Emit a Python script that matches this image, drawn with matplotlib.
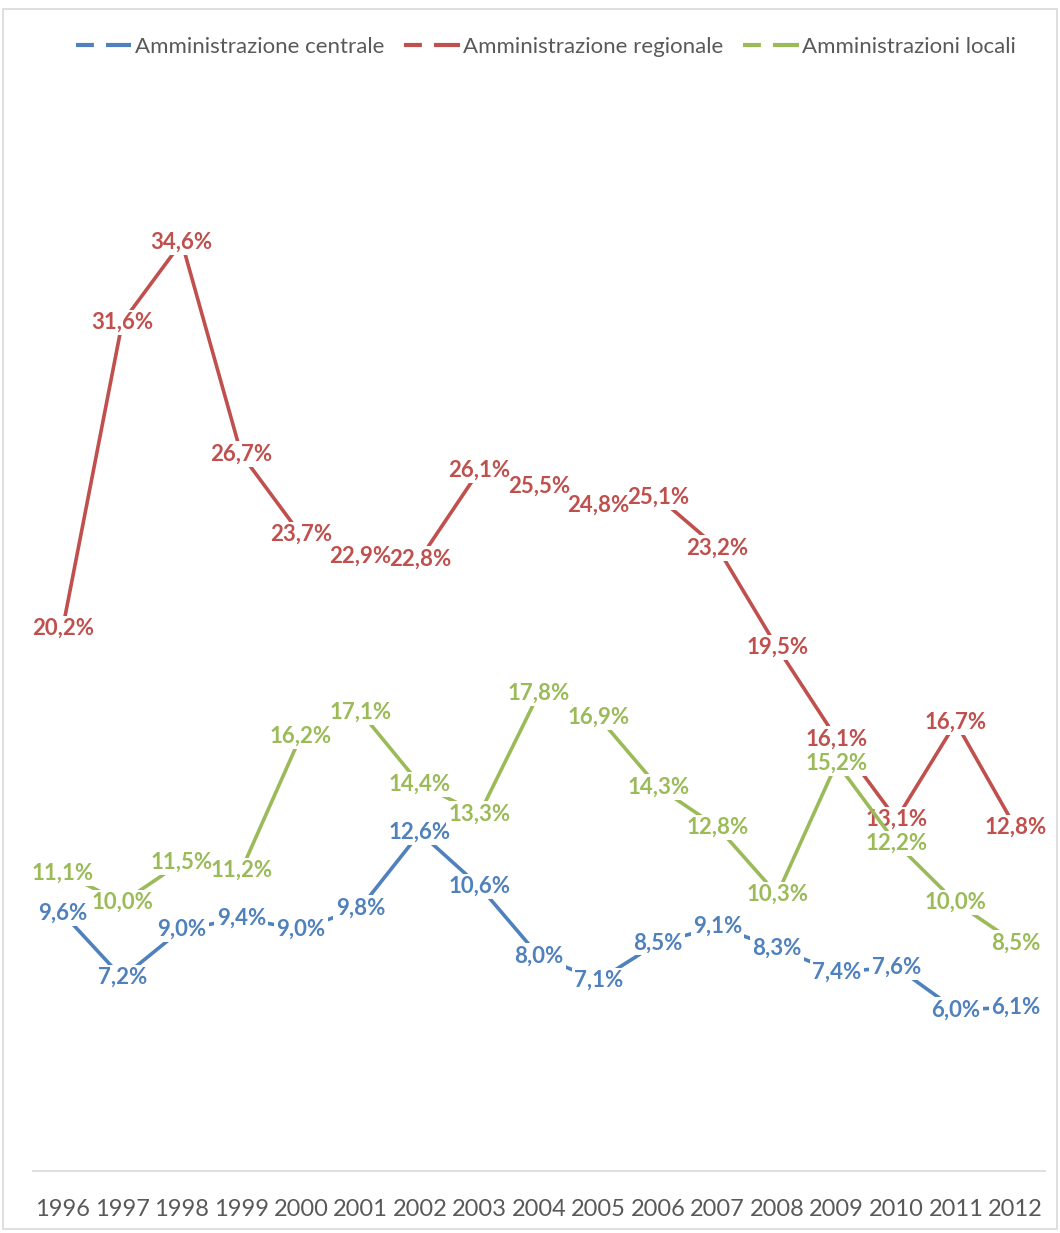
import matplotlib.pyplot as plt
from matplotlib.lines import Line2D
from matplotlib.patches import Rectangle

# ---- DATA ----
years = ["1996", "1997", "1998", "1999", "2000", "2001", "2002", "2003", "2004",
         "2005", "2006", "2007", "2008", "2009", "2010", "2011", "2012"]
centrale = [9.6, 7.2, 9.0, 9.4, 9.0, 9.8, 12.6, 10.6, 8.0, 7.1, 8.5, 9.1, 8.3, 7.4, 7.6, 6.0, 6.1]
regionale = [20.2, 31.6, 34.6, 26.7, 23.7, 22.9, 22.8, 26.1, 25.5, 24.8, 25.1, 23.2, 19.5, 16.1, 13.1, 16.7, 12.8]
locali = [11.1, 10.0, 11.5, 11.2, 16.2, 17.1, 14.4, 13.3, 17.8, 16.9, 14.3, 12.8, 10.3, 15.2, 12.2, 10.0, 8.5]
series_names = ["Amministrazione centrale", "Amministrazione regionale", "Amministrazioni locali"]
colors = ["#4F81BD", "#C0504D", "#9BBB59"]

plt.rcParams["font.family"] = ["Lato", "DejaVu Sans"]

fig = plt.figure(figsize=(10.6, 12.33), dpi=100)
fig.patches.append(Rectangle((0.003, 0.003), 0.994, 0.99, transform=fig.transFigure,
                             fill=False, edgecolor="#D9D9D9", linewidth=1.2))
ax = fig.add_axes([0.031, 0.0503, 0.955, 0.871])

x = list(range(len(years)))
for i, (vals, c) in enumerate(zip([centrale, regionale, locali], colors)):
    ax.plot(x, vals, color=c, linewidth=2.6, zorder=2 + 3 * i, solid_capstyle="butt")
    for xi, v in zip(x, vals):
        lbl = f"{v:.1f}%".replace(".", ",")
        # white box behind the label cuts the line, text itself drawn just above
        ax.text(xi, v, lbl, ha="center", va="center", color=c, alpha=0,
                fontsize=16, fontweight="bold", zorder=3 + 3 * i,
                bbox=dict(boxstyle="square,pad=0.1", facecolor="white", edgecolor="none"))
        ax.text(xi, v, lbl, ha="center", va="center", color=c,
                fontsize=16, fontweight="bold", zorder=3.5 + 3 * i)

ax.set_xlim(-0.5, len(years) - 0.5)
ax.set_ylim(0, 40)
ax.set_xticks(x)
ax.set_xticklabels(years, fontsize=17, color="#595959")
ax.tick_params(axis="x", length=0, pad=20)
ax.set_yticks([])
for s in ["top", "left", "right"]:
    ax.spines[s].set_visible(False)
ax.spines["bottom"].set_color("#D9D9D9")
ax.spines["bottom"].set_linewidth(1.2)

handles = [Line2D([0], [0], color=c, linewidth=3, linestyle=(0, (4.3, 2.9, 7, 2)))
           for c in colors]
fig.legend(handles, series_names, loc="center", bbox_to_anchor=(0.515, 0.962), ncol=3,
           frameon=False, fontsize=16, labelcolor="#595959", handlelength=2.5,
           handletextpad=0.15, columnspacing=0.9)

fig.savefig("out.png", dpi=100)
